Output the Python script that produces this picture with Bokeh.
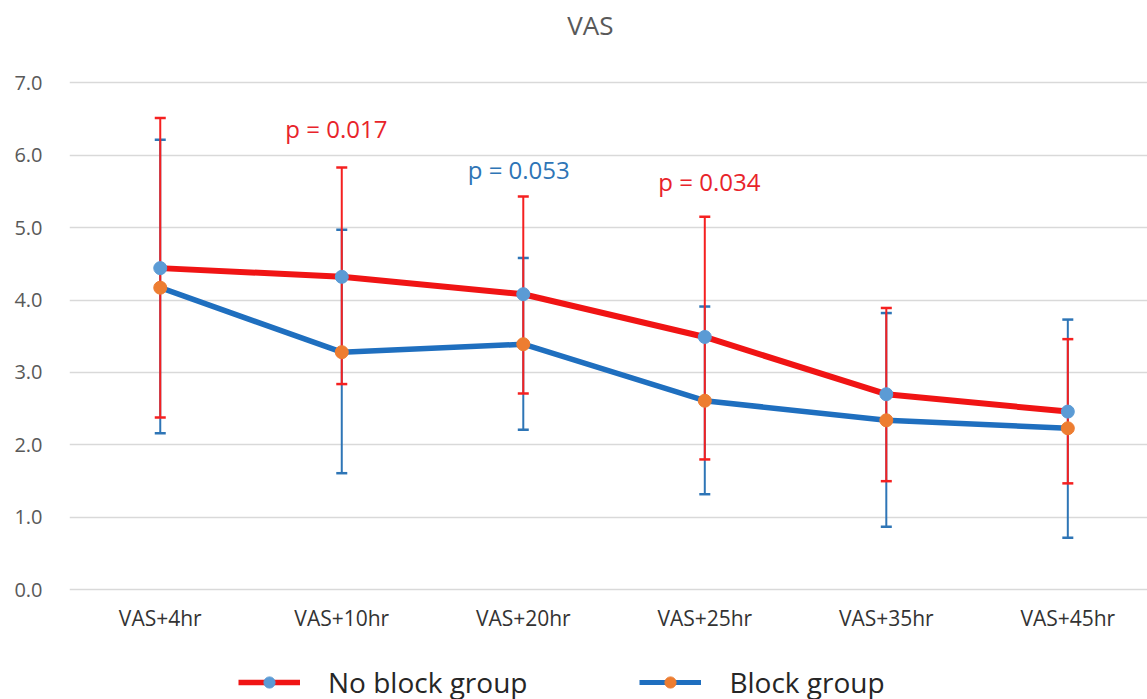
from bokeh.plotting import figure
from bokeh.layouts import column
from bokeh.models import Range1d, FixedTicker, Label, Legend, LegendItem, ColumnDataSource
from bokeh.embed import file_html
from bokeh.resources import INLINE

# ---- data ----
categories = ["VAS+4hr", "VAS+10hr", "VAS+20hr", "VAS+25hr", "VAS+35hr", "VAS+45hr"]
no_block_mean = [4.44, 4.32, 4.08, 3.49, 2.70, 2.46]
no_block_upper = [6.51, 5.83, 5.43, 5.15, 3.89, 3.46]
no_block_lower = [2.38, 2.84, 2.71, 1.80, 1.50, 1.47]
block_mean = [4.17, 3.28, 3.39, 2.61, 2.34, 2.23]
block_upper = [6.21, 4.97, 4.58, 3.91, 3.82, 3.73]
block_lower = [2.16, 1.61, 2.21, 1.32, 0.87, 0.72]
y_ticks = [0, 1, 2, 3, 4, 5, 6, 7]
p_texts = ["p = 0.017", "p = 0.053", "p = 0.034"]
p_x = [0.97, 1.975, 3.025]
p_y = [6.36, 5.80, 5.64]
p_colors = ["#E8232A", "#2E75B6", "#E8232A"]
series_names = ["No block group", "Block group"]
chart_title = "VAS"

RED = "#F01414"
BLUE = "#1F6FBF"
MK_BLUE = "#5B9BD5"
MK_ORANGE = "#ED7D31"
ERR_RED = "#F52020"
ERR_BLUE = "#2E75B6"

xs = list(range(len(categories)))
nb = ColumnDataSource(dict(x=xs, m=no_block_mean, u=no_block_upper, l=no_block_lower))
bl = ColumnDataSource(dict(x=xs, m=block_mean, u=block_upper, l=block_lower))

p = figure(width=1147, height=650, title=None,
           x_range=Range1d(-0.5, 5.439), y_range=Range1d(-0.05, 8.133),
           output_backend="svg", toolbar_location=None,
           min_border_left=69, min_border_right=0, min_border_top=0, min_border_bottom=57)
p.outline_line_color = None
p.background_fill_color = "white"
p.border_fill_color = "white"

# axes
p.xaxis.ticker = FixedTicker(ticks=xs)
p.xaxis.major_label_overrides = {i: c for i, c in enumerate(categories)}
p.yaxis.ticker = FixedTicker(ticks=y_ticks)
p.yaxis.major_label_overrides = {t: f"{t:.1f}" for t in y_ticks}
for ax in (p.xaxis[0], p.yaxis[0]):
    ax.axis_line_color = None
    ax.major_tick_line_color = None
    ax.minor_tick_line_color = None
    ax.major_tick_out = 0
    ax.major_tick_in = 0
    ax.major_label_text_font = "Open Sans"
p.xaxis.major_label_text_font_size = "21px"
p.xaxis.major_label_text_color = "#333333"
p.xaxis.major_label_standoff = 10
p.yaxis.major_label_text_font_size = "20px"
p.yaxis.major_label_text_color = "#595959"
p.yaxis.major_label_standoff = 27
p.xgrid.grid_line_color = None
p.ygrid.grid_line_color = "#D9D9D9"
p.ygrid.grid_line_width = 1.5

# error bars (block first, then no block on top)
p.segment(x0="x", y0="l", x1="x", y1="u", source=bl, line_color=ERR_BLUE, line_width=2)
p.scatter(x="x", y="u", source=bl, marker="dash", size=11, line_color=ERR_BLUE, line_width=2.5)
p.scatter(x="x", y="l", source=bl, marker="dash", size=11, line_color=ERR_BLUE, line_width=2.5)
p.segment(x0="x", y0="l", x1="x", y1="u", source=nb, line_color=ERR_RED, line_width=2)
p.scatter(x="x", y="u", source=nb, marker="dash", size=11, line_color=ERR_RED, line_width=2.5)
p.scatter(x="x", y="l", source=nb, marker="dash", size=11, line_color=ERR_RED, line_width=2.5)

# lines and markers
p.line(x="x", y="m", source=bl, line_color=BLUE, line_width=5.5)
p.line(x="x", y="m", source=nb, line_color=RED, line_width=6)
p.scatter(x="x", y="m", source=bl, marker="circle", size=13, fill_color=MK_ORANGE, line_color=MK_ORANGE)
p.scatter(x="x", y="m", source=nb, marker="circle", size=13, fill_color=MK_BLUE, line_color=MK_BLUE)

# title (inside the blank top part of the frame)
p.add_layout(Label(x=2.37, y=7.8, text=chart_title, text_font="Open Sans", text_font_size="26px",
                   text_color="#595959", text_align="center", text_baseline="middle"))

# p-values
for t, x, y, c in zip(p_texts, p_x, p_y, p_colors):
    p.add_layout(Label(x=x, y=y, text=t, text_font="Open Sans", text_font_size="24px",
                       text_color=c, text_align="center", text_baseline="middle"))

# ---- legend strip below ----
lg = figure(width=1147, height=49, x_range=Range1d(0, 1078), y_range=Range1d(100, 149),
            output_backend="svg", toolbar_location=None,
            x_axis_location=None, y_axis_location=None,
            min_border=0, min_border_left=69, min_border_right=0, min_border_top=0, min_border_bottom=0)
lg.outline_line_color = None
lg.xgrid.visible = False
lg.ygrid.visible = False
# legend proxies: same series, out of this strip's visible range
r1l = lg.line(x="x", y="m", source=nb, line_color=RED, line_width=5.5)
r1m = lg.scatter(x="x", y="m", source=nb, marker="circle", size=13, fill_color=MK_BLUE, line_color=MK_BLUE)
r2l = lg.line(x="x", y="m", source=bl, line_color=BLUE, line_width=5)
r2m = lg.scatter(x="x", y="m", source=bl, marker="circle", size=13, fill_color=MK_ORANGE, line_color=MK_ORANGE)
legend = Legend(items=[LegendItem(label=series_names[0], renderers=[r1l, r1m]),
                       LegendItem(label=series_names[1], renderers=[r2l, r2m])],
                location=(169, -2), orientation="horizontal",
                border_line_color=None, background_fill_alpha=0, padding=0, margin=0,
                spacing=112, glyph_width=62, glyph_height=28, label_standoff=28,
                label_text_font="Open Sans", label_text_font_size="28px",
                label_text_color="#262626")
lg.add_layout(legend)

layout = column(p, lg, spacing=0)
open("out.html", "w").write(file_html(layout, INLINE))
